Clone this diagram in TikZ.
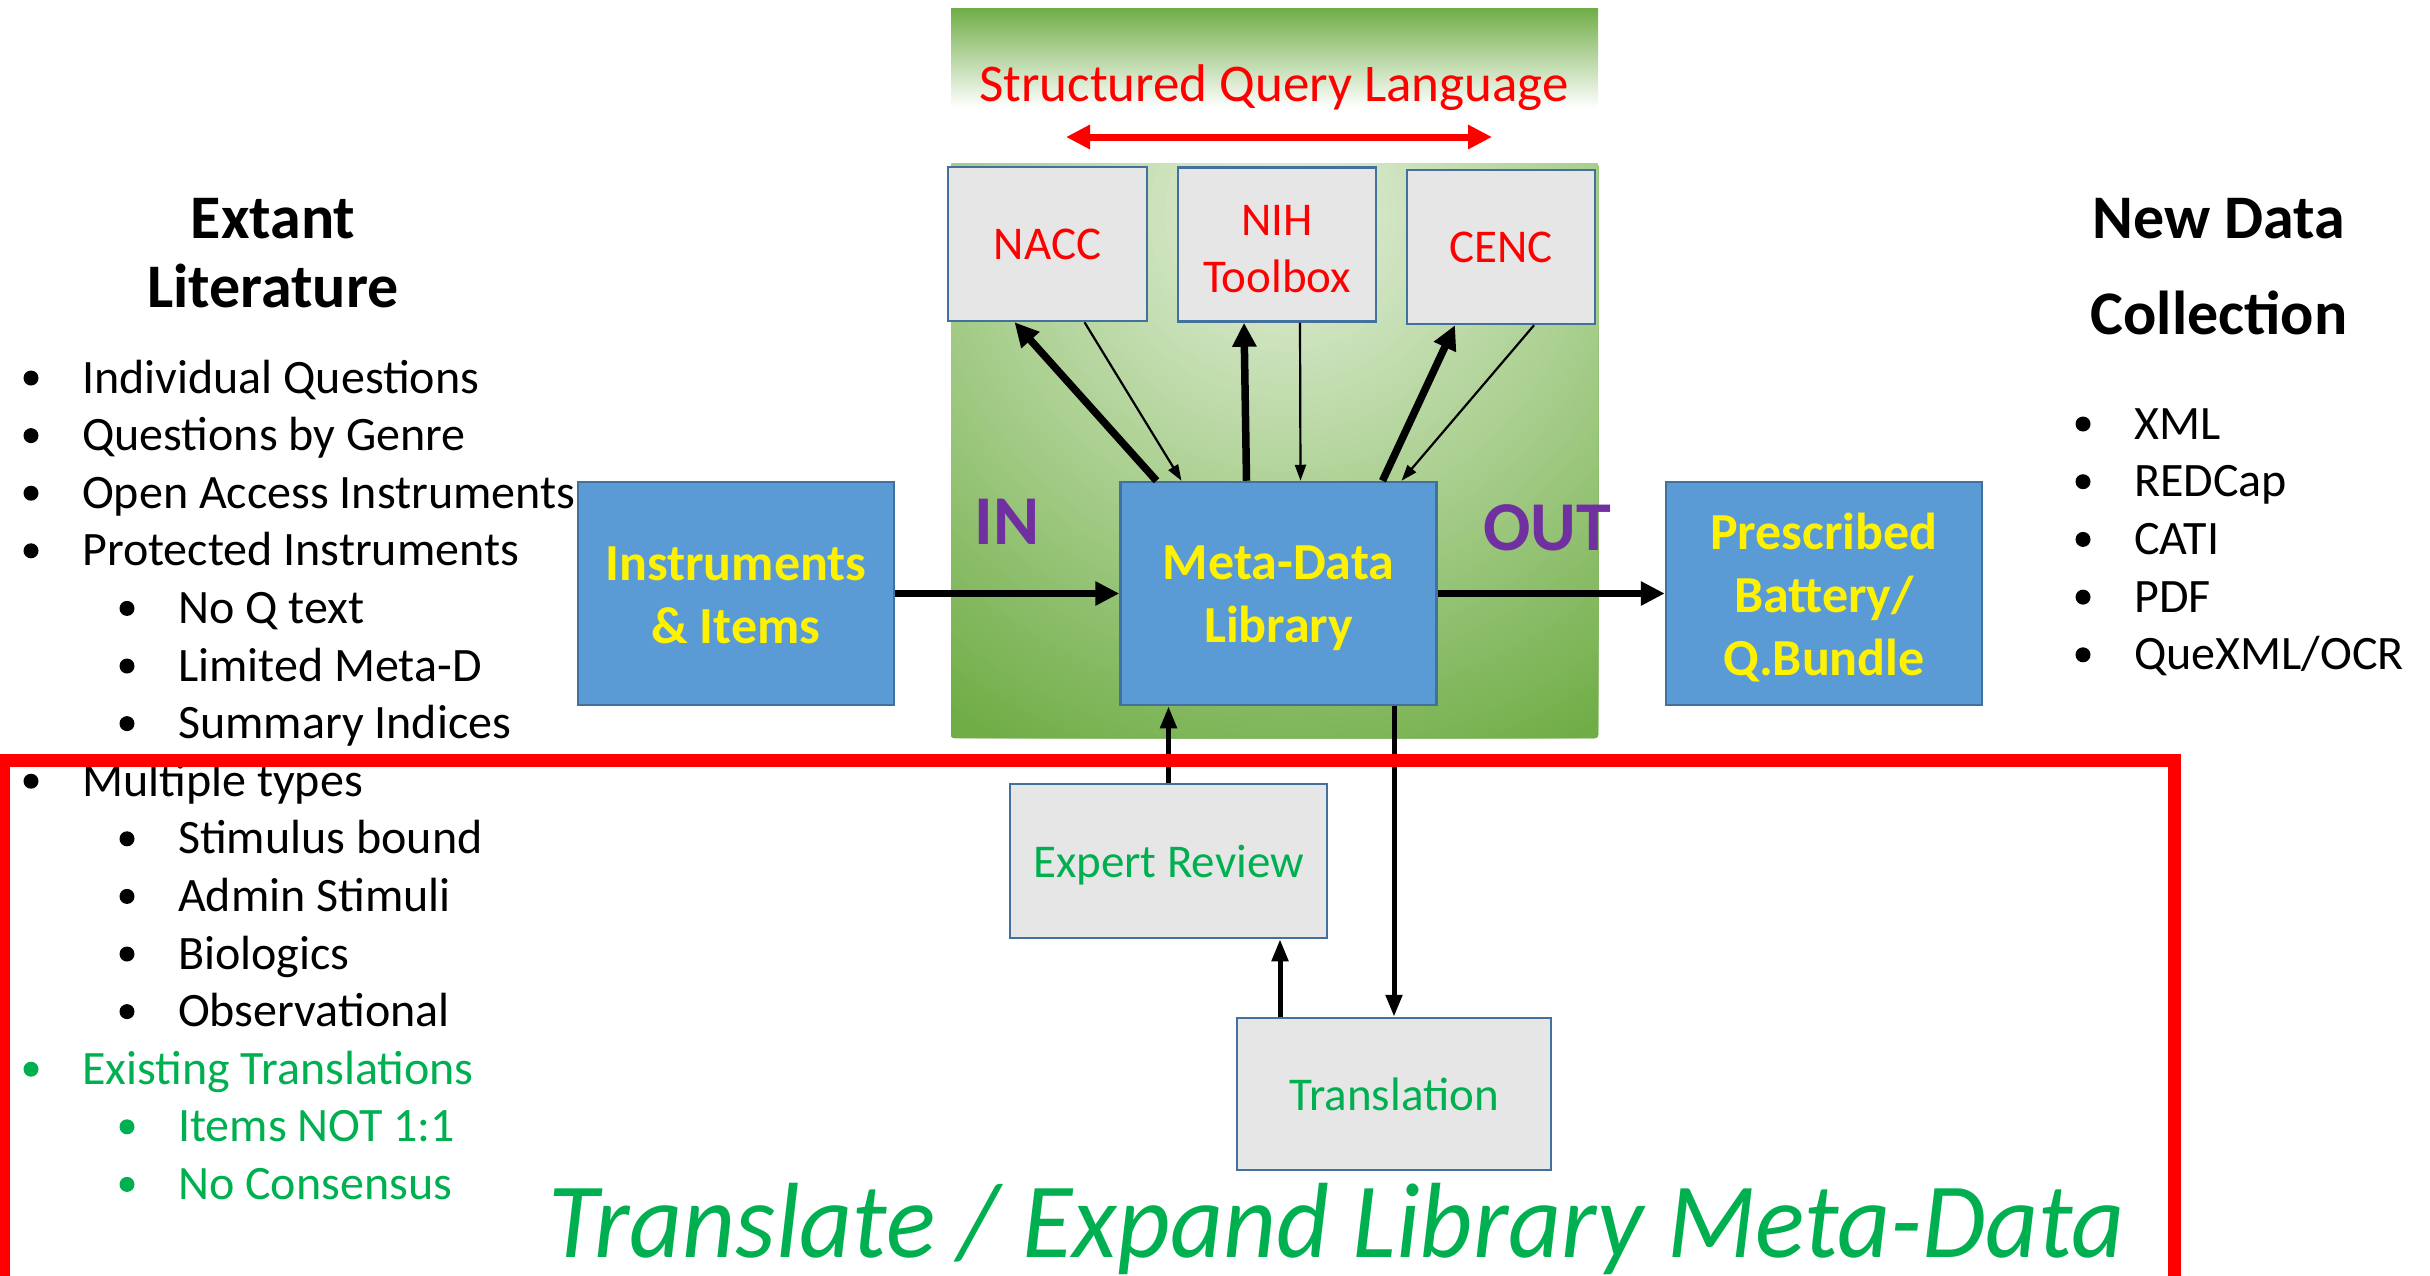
\documentclass[tikz,border=0pt]{standalone}
\usepackage{fontspec}
\setmainfont{Carlito}
\usetikzlibrary{arrows.meta,calc}
\definecolor{boxblue}{HTML}{5B9BD5}
\definecolor{boxline}{HTML}{41719C}
\definecolor{boxgray}{HTML}{E7E6E6}
\definecolor{txtgreen}{HTML}{00B050}
\definecolor{ppurple}{HTML}{7030A0}
\definecolor{glowA}{HTML}{DFEDD5}
\definecolor{glowM}{HTML}{A6CD8A}
\definecolor{glowD}{HTML}{70AD47}
\begin{document}
\begin{tikzpicture}[x=1pt,y=-1pt,
  bluebox/.style={draw=boxline, line width=2.5pt, fill=boxblue, minimum width=316pt, minimum height=223pt, inner sep=0pt},
  bluetext/.style={text=yellow, font=\bfseries\fontsize{52}{63}\selectfont, align=center, inner sep=0pt},
  graybox/.style={draw=boxline, line width=2.5pt, fill=boxgray, minimum height=154pt, inner sep=0pt, font=\fontsize{47}{57}\selectfont, align=center},
  graytext/.style={font=\fontsize{47}{57}\selectfont, align=center, inner sep=0pt},
  thickarrow/.style={line width=7.5pt, -{Triangle[length=24pt,width=23pt]}},
  medarrow/.style={line width=5pt, -{Triangle[length=22pt,width=16pt]}},
  thinarrow/.style={line width=2.2pt, -{Triangle[length=16pt,width=11pt]}},
  listtext/.style={anchor=base west, inner sep=0pt, font=\fontsize{48}{58}\selectfont},
  dot/.style={circle, inner sep=0pt, minimum size=15pt},
  titletext/.style={font=\bfseries\fontsize{62}{69}\selectfont, align=center}
]
\useasboundingbox (0,0) rectangle (2430,1275);
\clip (0,0) rectangle (2430,1275);

% green backgrounds
\shade[top color=glowD, bottom color=white] (951,8) rectangle (1598,108);
\begin{scope}
  \clip[rounded corners=3pt] (951,163) rectangle (1598,738);
  \fill[glowD] (951,163) rectangle (1598,738);
  \coordinate (glowc) at (1285,215);
  \foreach \r in {640,632,...,0} {
    \ifnum\r>330
      \pgfmathsetmacro\pd{max(0,min(100,(\r-330)/270*100))}
      \fill[glowD!\pd!glowM] (glowc) circle[radius=\r pt];
    \else
      \pgfmathsetmacro\pm{max(0,min(100,(\r-30)/300*100))}
      \fill[glowM!\pm!glowA] (glowc) circle[radius=\r pt];
    \fi
  }
\end{scope}

% SQL title and arrow
\node[text=red, font=\fontsize{53}{60}\selectfont, anchor=base, inner sep=0pt] (sql) at (1274,101) {Structured Query Language};
\coordinate (sqlL) at (1066,137);
\coordinate (sqlR) at (1492,137);
\draw[red, line width=7pt, {Triangle[length=24pt,width=23pt]}-{Triangle[length=24pt,width=23pt]}] (sqlL) -- (sqlR);

% boxes
\node[graybox, minimum width=199pt, text=red] (nacc) at (1047.5,244) {NACC};
\node[graybox, minimum width=198pt] (nih) at (1277,244.5) {};
\node[graytext, text=red] (nihtxt) at ([yshift=-4.5pt]nih.center) {NIH\\Toolbox};
\node[graybox, minimum width=188pt, text=red] (cenc) at (1501,247) {CENC};
\node[bluebox] (meta) at (1278.5,593.5) {};
\node[bluetext] (metatxt) at ([yshift=-4.5pt]meta.center) {Meta-Data\\Library};
\node[bluebox] (instr) at (736,593.5) {};
\node[bluetext] (instrtxt) at ([yshift=-2pt]instr.center) {Instruments\\\& Items};
\node[bluebox] (presc) at (1824,593.5) {};
\node[bluetext] (presctxt) at ([yshift=-4.5pt]presc.center) {Prescribed\\Battery/\\Q.Bundle};
\node[graybox, minimum width=317pt, text=txtgreen, text depth=0pt] (expert) at (1168.5,861) {Expert Review};
\node[graybox, minimum width=314pt, minimum height=152pt, text=txtgreen] (transl) at (1394,1094) {Translation};

% IN / OUT
\node[text=ppurple, font=\bfseries\fontsize{70}{80}\selectfont] (inlbl) at (1007,522) {IN};
\node[text=ppurple, font=\bfseries\fontsize{70}{80}\selectfont] (outlbl) at (1547,528) {OUT};

% connectors
\draw[thickarrow] ([xshift=-122pt]meta.north) -- ([xshift=-33pt]nacc.south);
\draw[thinarrow] ([xshift=37pt]nacc.south) -- ([xshift=-97pt]meta.north);
\draw[thickarrow] ([xshift=-32pt]meta.north) -- ([xshift=-33pt]nih.south);
\draw[thinarrow] ([xshift=23pt]nih.south) -- ([xshift=22pt]meta.north);
\draw[thickarrow] ([xshift=104pt]meta.north) -- ([xshift=-46pt]cenc.south);
\draw[thinarrow] ([xshift=33pt]cenc.south) -- ([xshift=123pt]meta.north);
\draw[thickarrow] (instr.east) -- (meta.west);
\draw[thickarrow] (meta.east) -- (presc.west);
\draw[medarrow] (expert.north) -- (expert.north |- meta.south);
\draw[medarrow] (transl.north |- meta.south) -- (transl.north);
\draw[medarrow] ([xshift=-114pt]transl.north) -- ([xshift=-114pt]transl.north |- expert.south);

% titles
\node[titletext] (extant) at (273,253.5) {Extant\\Literature};
\node[titletext, font=\bfseries\fontsize{62}{96}\selectfont] (newdata) at (2219,267) {New Data\\Collection};

% left list
\foreach \t/\lv/\c [count=\i from 0] in {Individual Questions/0/black,Questions by Genre/0/black,Open Access Instruments/0/black,Protected Instruments/0/black,No Q text/1/black,Limited Meta-D/1/black,Summary Indices/1/black,Multiple types/0/black,Stimulus bound/1/black,Admin Stimuli/1/black,Biologics/1/black,Observational/1/black,Existing Translations/0/txtgreen,Items NOT 1:1/1/txtgreen,No Consensus/1/txtgreen}
{
  \pgfmathsetmacro\yy{378+57.6*\i}
  \pgfmathsetmacro\xb{31+96*\lv}
  \pgfmathsetmacro\xt{82+96*\lv}
  \node[dot, fill=\c] (lb\i) at (\xb,\yy) {};
  \node[listtext, text=\c] (lt\i) at (\xt,{\yy+15}) {\t};
}

% right list
\foreach \t [count=\i from 0] in {XML,REDCap,CATI,PDF,{QueXML/OCR}}
{
  \pgfmathsetmacro\yy{424+57.7*\i}
  \node[dot, fill=black] (rb\i) at (2083,\yy) {};
  \node[listtext] (rt\i) at (2134,{\yy+15}) {\t};
}

% bottom caption
\begin{scope}[shift={(1337,1257)}, xscale=0.965]
\node[transform shape, text=txtgreen, font=\itshape\fontsize{107}{112}\selectfont, anchor=base, inner sep=0pt] (caption) at (0,0) {Translate / Expand Library Meta-Data};
\end{scope}

% red frame
\draw[red, line width=13pt] (3,1300) -- (3,760) -- (2174,760) -- (2174,1300);
\end{tikzpicture}
\end{document}
